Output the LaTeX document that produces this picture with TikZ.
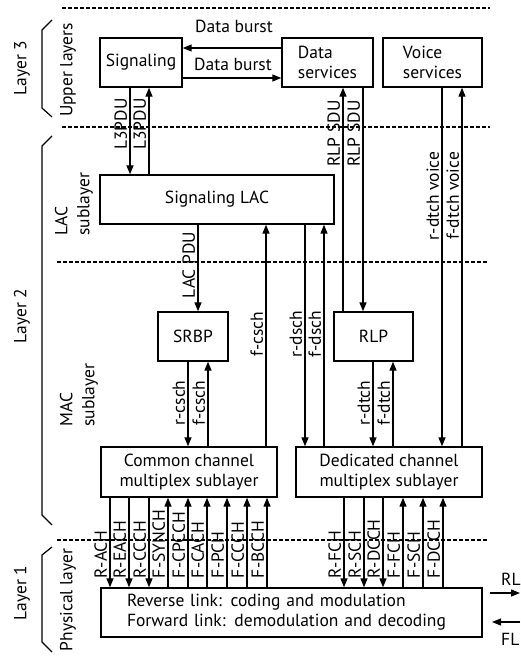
\documentclass[tikz,border=0pt]{standalone}
\usepackage{fontspec}
\setmainfont{PT Sans}
\usetikzlibrary{arrows.meta}
\begin{document}
\begin{tikzpicture}[x=1pt,y=-1pt,
  every node/.style={font=\fontsize{17.5}{20}\selectfont},
  box/.style={draw,line width=1.4pt,minimum height=49pt,inner sep=2pt},
  ln/.style={line width=1.3pt},
  arr/.style={ln,-{Triangle[length=9pt,width=7pt]}},
  vlab/.style={rotate=90,anchor=south,inner sep=1.8pt},
  chlab/.style={rotate=90,anchor=south west,inner sep=1.8pt},
  sep/.style={dash pattern=on 3.5pt off 2.5pt,line width=1.2pt},
  brk/.style={line width=1.2pt},
  side/.style={rotate=90,align=left,inner sep=0pt,font=\fontsize{17.5}{22}\selectfont}]
\useasboundingbox (0,0) rectangle (520,658);

% separators
\draw[sep] (62,8) -- (490,8);
\draw[sep] (62,127) -- (490,127);
\draw[sep] (57,262) -- (487,262);
\draw[sep] (57,540) -- (487,540);

% brackets
\draw[brk] (52,20) -- (42,30) -- (42,108) -- (52,117);
\draw[brk] (52,136) -- (42,146) -- (42,515) -- (52,525);
\draw[brk] (52,547) -- (42,555) -- (42,642) -- (52,652);

% side labels
\node[side] (l3) at (22,68) {Layer 3};
\node[side] (ul) at (68,70) {Upper layers};
\node[side] (l2) at (22,316) {Layer 2};
\node[side] (lacs) at (74,204) {LAC\\sublayer};
\node[side] (macs) at (79,395) {MAC\\sublayer};
\node[side] (l1) at (22,593) {Layer 1};
\node[side] (pl) at (68,600) {Physical layer};

% boxes
\node[box,minimum width=82pt] (sig) at (141,62.5) {Signaling};
\node[box,minimum width=91pt,align=left] (data) at (327.5,62.5) {Data\\services};
\node[box,minimum width=99pt,align=left] (voice) at (432.5,62.5) {Voice\\services};
\node[box,minimum width=234pt] (lac) at (217,199.5) {Signaling LAC};
\node[box,minimum width=70pt] (srbp) at (193,336.5) {SRBP};
\node[box,minimum width=79pt] (rlp) at (373.5,336.5) {RLP};
\node[box,minimum width=176pt,minimum height=50pt,align=center] (ccm) at (189,472) {Common channel\\multiplex sublayer};
\node[box,minimum width=186pt,minimum height=50pt,align=center] (dcm) at (389,472) {Dedicated channel\\multiplex sublayer};
\node[box,minimum width=381pt,text width=329pt,align=left] (phy) at (291.5,612.5) {Reverse link: coding and modulation\\Forward link: demodulation and decoding};

% data bursts
\draw[arr] ([yshift=14.5pt]data.west) -- ([yshift=14.5pt]sig.east);
\draw[arr] ([yshift=-15.5pt]sig.east) -- ([yshift=-15.5pt]data.west);
\node (db1) at (234,26) {Data burst};
\node (db2) at (233,64) {Data burst};

% L3PDU
\draw[arr] (sig.south -| 130,0) -- (lac.north -| 130,0);
\draw[arr] (lac.north -| 149,0) -- (sig.south -| 149,0);
\node[vlab] (t1) at (129,124) {L3PDU};
\node[vlab] (t2) at (148,124) {L3PDU};

% RLP SDU
\draw[arr] (rlp.north -| 343,0) -- (data.south -| 343,0);
\draw[arr] (data.south -| 363,0) -- (rlp.north -| 363,0);
\node[vlab] (t3) at (342,133.5) {RLP SDU};
\node[vlab] (t4) at (362,133.5) {RLP SDU};

% voice
\draw[arr] (voice.south -| 442,0) -- (dcm.north -| 442,0);
\draw[arr] (dcm.north -| 462,0) -- (voice.south -| 462,0);
\node[vlab] (t5) at (441,196) {r-dtch voice};
\node[vlab] (t6) at (461,196) {f-dtch voice};

% LAC PDU
\draw[arr] (lac.south -| 198,0) -- (srbp.north -| 198,0);
\node[vlab] (t7) at (197,265) {LAC PDU};

% f-csch long
\draw[arr] (ccm.north -| 266,0) -- (lac.south -| 266,0);
\node[vlab] (t8) at (265,334) {f-csch};

% r-dsch f-dsch
\draw[arr] (lac.south -| 305,0) -- (dcm.north -| 305,0);
\draw[arr] (dcm.north -| 324,0) -- (lac.south -| 324,0);
\node[vlab] (t9) at (304,334) {r-dsch};
\node[vlab] (t10) at (323,334) {f-dsch};

% r-csch f-csch
\draw[arr] (srbp.south -| 188,0) -- (ccm.north -| 188,0);
\draw[arr] (ccm.north -| 208,0) -- (srbp.south -| 208,0);
\node[vlab] (t11) at (187,403) {r-csch};
\node[vlab] (t12) at (207,403) {f-csch};

% r-dtch f-dtch
\draw[arr] (rlp.south -| 373,0) -- (dcm.north -| 373,0);
\draw[arr] (dcm.north -| 393,0) -- (rlp.south -| 393,0);
\node[vlab] (t13) at (372,403) {r-dtch};
\node[vlab] (t14) at (392,403) {f-dtch};

% common channels
\foreach \x/\lab/\d in {110/R-ACH/d,129/R-EACH/d,149/R-CCCH/d,168/F-SYNCH/u,188/F-CPCCH/u,207/F-CACH/u,227/F-PCH/u,247/F-CCCH/u,267/F-BCCH/u}{
  \if\d d
    \draw[arr] (ccm.south -| \x,0) -- (phy.north -| \x,0);
  \else
    \draw[arr] (phy.north -| \x,0) -- (ccm.south -| \x,0);
  \fi
  \node[chlab] (c\x) at (\x-1,580) {\lab};
}
% dedicated channels
\foreach \x/\lab/\d in {344/R-FCH/d,364/R-SCH/d,383/R-DCCH/d,403/F-FCH/u,423/F-SCH/u,443/F-DCCH/u}{
  \if\d d
    \draw[arr] (dcm.south -| \x,0) -- (phy.north -| \x,0);
  \else
    \draw[arr] (phy.north -| \x,0) -- (dcm.south -| \x,0);
  \fi
  \node[chlab] (c\x) at (\x-1,580) {\lab};
}

% RL / FL
\coordinate (rla) at (490,593);
\coordinate (rlb) at (520,593);
\coordinate (fla) at (520,622);
\coordinate (flb) at (492,622);
\draw[arr] (rla) -- (rlb);
\draw[arr] (fla) -- (flb);
\node[anchor=west,inner sep=0pt] (rl) at (501,579) {RL};
\node[anchor=west,inner sep=0pt] (fl) at (501,639) {FL};
\end{tikzpicture}
\end{document}
